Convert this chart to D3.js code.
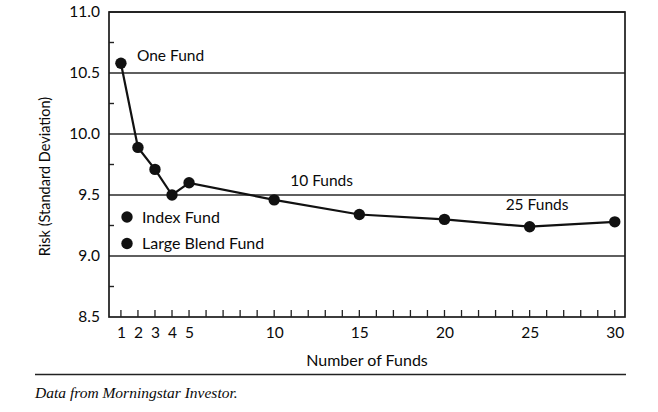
<!DOCTYPE html>
<html>
<head>
<meta charset="utf-8">
<script src="https://d3js.org/d3.v7.min.js"></script>
<style>
  body { margin: 0; background: #fff; }
  svg text { font-family: Lato, "Open Sans", sans-serif; fill: #0a0a0a; }
</style>
</head>
<body>
<div id="chart"></div>
<script>
// Number of funds vs. risk
const funds = [1, 2, 3, 4, 5, 10, 15, 20, 25, 30];
const risk = [10.58, 9.89, 9.71, 9.50, 9.60, 9.46, 9.34, 9.30, 9.24, 9.28];
const xTickLabels = [1, 2, 3, 4, 5, 10, 15, 20, 25, 30];
const yTickLabels = [8.5, 9.0, 9.5, 10.0, 10.5, 11.0];
const pointLabels = [
  {fund: 1, text: "One Fund"},
  {fund: 10, text: "10 Funds"},
  {fund: 25, text: "25 Funds"}
];
const legendItems = ["Index Fund", "Large Blend Fund"];

const width = 658, height = 412;
const margin = {top: 12, right: 33, bottom: 95, left: 109};

const svg = d3.select('#chart').append('svg')
  .attr('width', width)
  .attr('height', height);

const x = d3.scaleLinear()
  .domain([0.3, 30.6])
  .range([margin.left, width - margin.right]);

const y = d3.scaleLinear()
  .domain([8.5, 11.0])
  .range([height - margin.bottom, margin.top]);

const x0 = x.range()[0], x1 = x.range()[1];
const yBottom = y.range()[0], yTop = y.range()[1];

// gridlines at major y ticks
svg.append('g')
  .selectAll('line')
  .data(yTickLabels.filter(v => v > 8.5))
  .join('line')
  .attr('x1', x0).attr('x2', x1)
  .attr('y1', d => y(d)).attr('y2', d => y(d))
  .attr('stroke', '#2a2a2a').attr('stroke-width', 1.5);

// frame
svg.append('rect')
  .attr('x', x0).attr('y', yTop)
  .attr('width', x1 - x0).attr('height', yBottom - yTop)
  .attr('fill', 'none').attr('stroke', '#1a1a1a').attr('stroke-width', 1.7);

// y axis: major labels and minor inward ticks
const yAxis = d3.axisLeft(y)
  .tickValues(yTickLabels)
  .tickFormat(d3.format('.1f'))
  .tickSize(0)
  .tickPadding(9);
const gy = svg.append('g')
  .attr('transform', `translate(${x0},0)`)
  .call(yAxis);
gy.select('.domain').remove();
gy.selectAll('text').style('font-size', '15.5px').style('fill', '#0a0a0a');

svg.append('g')
  .selectAll('line')
  .data(d3.range(8.75, 11, 0.5))
  .join('line')
  .attr('x1', x0).attr('x2', x0 + 5)
  .attr('y1', d => y(d)).attr('y2', d => y(d))
  .attr('stroke', '#222').attr('stroke-width', 1.4);

// x axis: labels plus small upward ticks on every integer
const xAxis = d3.axisBottom(x)
  .tickValues(xTickLabels)
  .tickSize(0)
  .tickPadding(10);
const gx = svg.append('g')
  .attr('transform', `translate(0,${yBottom})`)
  .call(xAxis);
gx.select('.domain').remove();
gx.selectAll('text').style('font-size', '15.5px').style('fill', '#0a0a0a');

svg.append('g')
  .selectAll('line')
  .data(d3.range(1, 31))
  .join('line')
  .attr('x1', d => x(d)).attr('x2', d => x(d))
  .attr('y1', yBottom).attr('y2', yBottom - 7)
  .attr('stroke', '#222').attr('stroke-width', 1.3);

// series
const pts = funds.map((f, i) => [f, risk[i]]);
svg.append('path')
  .datum(pts)
  .attr('fill', 'none')
  .attr('stroke', '#111')
  .attr('stroke-width', 2.2)
  .attr('d', d3.line().x(d => x(d[0])).y(d => y(d[1])));

svg.append('g')
  .selectAll('circle')
  .data(pts)
  .join('circle')
  .attr('cx', d => x(d[0])).attr('cy', d => y(d[1]))
  .attr('r', 5.7)
  .attr('fill', '#111');

// point annotations
const labelOffset = {1: [16, -2], 10: [16, -14], 25: [-24, -17]};
svg.append('g')
  .selectAll('text')
  .data(pointLabels)
  .join('text')
  .attr('x', d => x(d.fund) + labelOffset[d.fund][0])
  .attr('y', d => y(risk[funds.indexOf(d.fund)]) + labelOffset[d.fund][1])
  .style('font-size', '15.5px')
  .text(d => d.text);

// legend
const lg = svg.append('g')
  .selectAll('g')
  .data(legendItems)
  .join('g')
  .attr('transform', (d, i) => `translate(${x0 + 18},${y(9.32) + i * 26.5})`);
lg.append('circle').attr('r', 5.7).attr('fill', '#111');
lg.append('text').attr('x', 15).attr('dy', '0.35em')
  .style('font-size', '16px').text(d => d);

// axis titles
svg.append('text')
  .attr('x', (x0 + x1) / 2).attr('y', 366)
  .attr('text-anchor', 'middle')
  .style('font-size', '16px')
  .text('Number of Funds');

svg.append('text')
  .attr('transform', `translate(50,${(yTop + yBottom) / 2 + 12}) rotate(-90)`)
  .attr('text-anchor', 'middle')
  .style('font-size', '14.5px')
  .text('Risk (Standard Deviation)');

// source rule and note
svg.append('line')
  .attr('x1', 35).attr('x2', 626)
  .attr('y1', 374.5).attr('y2', 374.5)
  .attr('stroke', '#222').attr('stroke-width', 1.7);

svg.append('text')
  .attr('x', 35).attr('y', 398)
  .style('font-family', '"Liberation Serif", "DejaVu Serif", serif')
  .style('font-style', 'italic')
  .style('font-size', '15.5px')
  .text('Data from Morningstar Investor.');
</script>
</body>
</html>
